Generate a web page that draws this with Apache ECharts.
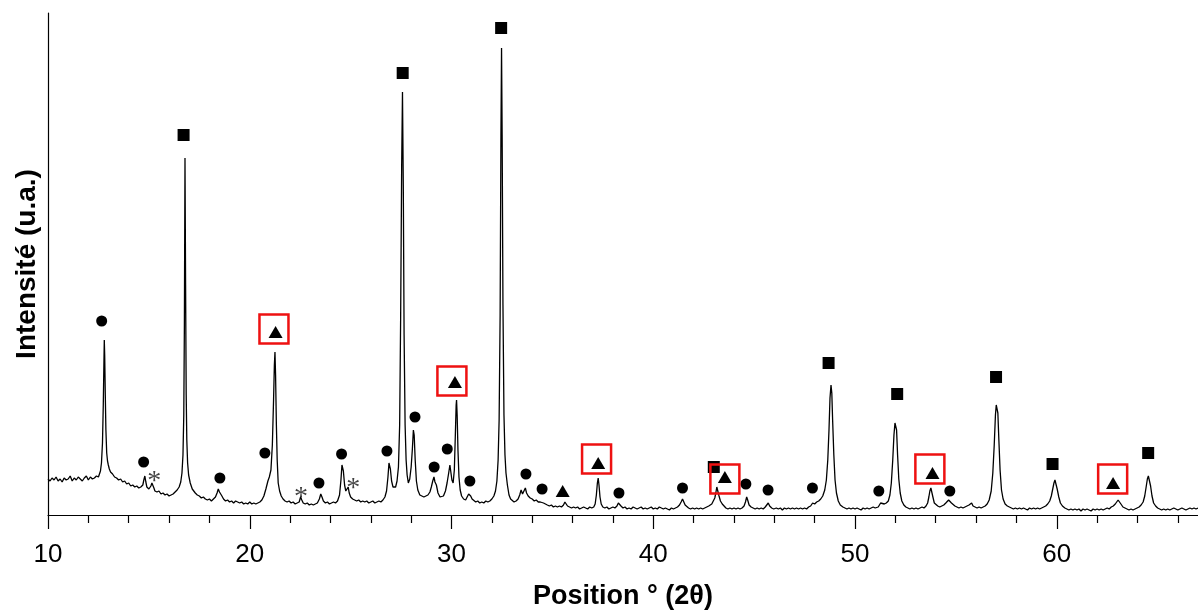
<!DOCTYPE html>
<html>
<head>
<meta charset="utf-8">
<script src="https://cdn.jsdelivr.net/npm/echarts@6/dist/echarts.min.js"></script>
<style>html,body{margin:0;padding:0;background:#fff;}#chart{width:1198px;height:610px;}</style>
</head>
<body>
<div id="chart"></div>
<script>
// XRD trace: [2theta, intensity (a.u.)]
const trace10_20 = [[10.0,36],[10.1,34],[10.2,37],[10.3,35],[10.4,38],[10.5,34],[10.6,36],[10.7,33],[10.8,37],[10.9,35],[11.0,36],[11.1,39],[11.2,34],[11.3,37],[11.4,35],[11.5,38],[11.6,36],[11.7,34],[11.8,37],[11.9,39],[12.0,35],[12.1,38],[12.2,36],[12.3,37],[12.4,39],[12.5,38],[12.55,40],[12.6,44],[12.65,52],[12.7,72],[12.74,110],[12.77,150],[12.79,175],[12.81,160],[12.84,120],[12.87,85],[12.91,62],[12.95,54],[12.99,50],[13.04,46],[13.1,43],[13.2,41],[13.3,38],[13.4,37],[13.5,35],[13.6,36],[13.7,33],[13.8,34],[13.9,31],[14.0,32],[14.1,29],[14.2,30],[14.3,28],[14.4,29],[14.5,27],[14.6,28],[14.65,28],[14.7,30],[14.75,35],[14.8,39],[14.85,33],[14.9,28],[14.95,26],[15.0,26],[15.05,27],[15.1,29],[15.15,32],[15.2,31],[15.25,27],[15.3,24],[15.4,23],[15.5,24],[15.6,21],[15.7,22],[15.8,20],[15.9,21],[16.0,19],[16.1,20],[16.2,21],[16.3,23],[16.4,25],[16.5,28],[16.58,33],[16.64,42],[16.69,60],[16.73,100],[16.76,190],[16.79,357],[16.82,230],[16.85,120],[16.88,75],[16.92,52],[16.97,40],[17.05,32],[17.15,26],[17.3,22],[17.4,20],[17.5,19],[17.6,17],[17.7,18],[17.8,16],[17.9,15],[18.0,16],[18.1,14],[18.2,16],[18.3,18],[18.38,22],[18.44,26],[18.5,23],[18.55,25],[18.62,19],[18.7,16],[18.8,14],[18.9,15],[19.0,13],[19.1,14],[19.2,12],[19.3,14],[19.4,13],[19.5,12],[19.6,13],[19.7,11],[19.8,12],[19.9,11],[20.0,13]];
const trace20_30 = [[20.1,11],[20.2,12],[20.3,11],[20.4,12],[20.5,13],[20.6,15],[20.7,19],[20.8,26],[20.9,34],[20.97,38],[21.05,45],[21.12,70],[21.18,115],[21.22,150],[21.25,163],[21.28,140],[21.32,90],[21.36,55],[21.41,32],[21.48,24],[21.56,19],[21.65,16],[21.75,14],[21.85,13],[21.95,14],[22.05,12],[22.15,13],[22.25,11],[22.35,12],[22.45,13],[22.52,18],[22.58,15],[22.65,12],[22.75,11],[22.85,12],[22.95,10],[23.05,11],[23.15,10],[23.25,11],[23.35,12],[23.45,16],[23.52,21],[23.58,18],[23.65,14],[23.75,12],[23.85,13],[23.95,11],[24.05,12],[24.15,13],[24.25,12],[24.35,14],[24.45,20],[24.52,35],[24.57,50],[24.6,52],[24.64,44],[24.7,30],[24.76,24],[24.82,25],[24.88,28],[24.93,22],[25.0,18],[25.1,16],[25.2,15],[25.3,14],[25.4,15],[25.5,13],[25.6,14],[25.7,13],[25.8,14],[25.9,12],[26.0,13],[26.1,14],[26.2,12],[26.3,13],[26.4,14],[26.5,13],[26.6,15],[26.7,18],[26.78,24],[26.85,38],[26.9,52],[26.93,54],[26.97,46],[27.03,34],[27.1,28],[27.17,26],[27.23,28],[27.3,34],[27.37,48],[27.43,90],[27.48,200],[27.53,350],[27.57,423],[27.61,330],[27.65,180],[27.7,90],[27.75,55],[27.8,40],[27.86,32],[27.93,36],[28.0,48],[28.06,66],[28.11,85],[28.15,80],[28.2,55],[28.26,34],[28.33,25],[28.43,20],[28.53,19],[28.63,18],[28.73,19],[28.83,20],[28.93,23],[29.0,28],[29.07,34],[29.13,38],[29.18,33],[29.25,30],[29.33,22],[29.43,18],[29.51,17],[29.6,19],[29.7,24],[29.78,32],[29.86,42],[29.92,50],[29.96,48]];
const trace30_40 = [[30.02,35],[30.08,32],[30.14,45],[30.19,80],[30.23,110],[30.25,115],[30.28,100],[30.32,65],[30.37,38],[30.43,25],[30.5,19],[30.6,16],[30.7,15],[30.78,17],[30.85,21],[30.9,22],[30.95,19],[31.02,16],[31.1,14],[31.2,13],[31.3,14],[31.4,12],[31.5,13],[31.6,12],[31.7,14],[31.8,13],[31.9,14],[32.0,16],[32.1,19],[32.18,24],[32.25,34],[32.31,55],[32.36,95],[32.41,200],[32.45,380],[32.48,467],[32.51,380],[32.55,210],[32.6,100],[32.65,60],[32.7,42],[32.77,30],[32.85,20],[32.93,16],[33.0,14],[33.1,13],[33.2,14],[33.3,16],[33.38,20],[33.45,25],[33.52,21],[33.58,23],[33.66,27],[33.72,22],[33.8,19],[33.9,17],[34.0,16],[34.1,14],[34.2,15],[34.3,13],[34.4,13],[34.48,15],[34.56,12],[34.65,11],[34.75,10],[34.85,9],[34.95,10],[35.05,8],[35.15,9],[35.25,8],[35.35,9],[35.45,8],[35.55,10],[35.62,13],[35.68,12],[35.75,9],[35.85,8],[35.95,7],[36.05,8],[36.15,7],[36.25,8],[36.35,6],[36.45,7],[36.55,8],[36.65,7],[36.75,6],[36.85,8],[36.95,7],[37.05,8],[37.12,11],[37.18,20],[37.23,32],[37.27,37],[37.31,30],[37.36,18],[37.42,11],[37.5,8],[37.6,7],[37.7,8],[37.8,6],[37.9,7],[38.0,8],[38.1,7],[38.2,9],[38.27,12],[38.33,11],[38.4,9],[38.5,7],[38.6,8],[38.7,6],[38.8,7],[38.9,6],[39.0,8],[39.1,7],[39.2,6],[39.3,7],[39.4,8],[39.5,6],[39.6,7],[39.7,6],[39.8,7],[39.9,8],[40.0,6]];
const trace40_50 = [[40.1,7],[40.2,6],[40.3,8],[40.4,7],[40.5,6],[40.6,7],[40.7,6],[40.8,5],[40.9,7],[41.0,6],[41.1,7],[41.2,8],[41.3,10],[41.38,13],[41.45,16],[41.5,14],[41.58,10],[41.66,8],[41.75,7],[41.85,6],[41.95,7],[42.05,6],[42.15,7],[42.25,6],[42.35,7],[42.45,6],[42.55,7],[42.65,8],[42.75,9],[42.82,10],[42.9,11],[42.98,13],[43.05,17],[43.1,22],[43.15,28],[43.2,26],[43.26,19],[43.33,14],[43.42,11],[43.5,9],[43.6,7],[43.7,6],[43.8,7],[43.9,6],[44.0,7],[44.1,6],[44.2,7],[44.3,6],[44.4,7],[44.5,9],[44.57,13],[44.63,18],[44.68,15],[44.75,10],[44.85,8],[44.95,7],[45.05,6],[45.15,7],[45.25,6],[45.35,7],[45.45,6],[45.55,8],[45.63,10],[45.7,12],[45.77,9],[45.87,7],[45.97,6],[46.1,7],[46.2,6],[46.3,7],[46.4,5],[46.5,7],[46.6,6],[46.7,7],[46.8,6],[46.9,7],[47.0,6],[47.1,7],[47.2,6],[47.3,7],[47.4,6],[47.5,7],[47.6,6],[47.7,8],[47.8,9],[47.9,12],[48.0,11],[48.1,13],[48.2,14],[48.3,16],[48.4,19],[48.5,25],[48.58,35],[48.65,55],[48.71,85],[48.76,117],[48.81,130],[48.85,122],[48.89,95],[48.95,60],[49.01,35],[49.08,22],[49.17,14],[49.27,10],[49.4,8],[49.5,7],[49.6,6],[49.7,7],[49.8,6],[49.9,7],[50.0,6]];
const trace50_60 = [[50.1,7],[50.2,6],[50.3,5],[50.4,7],[50.5,6],[50.6,7],[50.7,6],[50.8,7],[50.9,8],[51.0,7],[51.08,9],[51.15,8],[51.2,10],[51.27,12],[51.35,10],[51.45,11],[51.55,12],[51.65,14],[51.73,20],[51.8,32],[51.87,55],[51.93,80],[51.98,92],[52.02,94],[52.06,85],[52.11,60],[52.17,36],[52.24,22],[52.32,14],[52.42,10],[52.52,8],[52.62,7],[52.72,6],[52.82,7],[52.92,6],[53.02,7],[53.12,6],[53.22,7],[53.32,8],[53.42,7],[53.52,9],[53.6,12],[53.66,18],[53.71,24],[53.76,27],[53.8,25],[53.86,18],[53.93,12],[54.0,10],[54.1,9],[54.2,8],[54.3,9],[54.4,10],[54.5,12],[54.57,14],[54.64,15],[54.7,13],[54.78,12],[54.86,10],[54.95,9],[55.05,8],[55.15,7],[55.25,8],[55.35,7],[55.45,8],[55.55,9],[55.65,10],[55.72,12],[55.78,12],[55.85,9],[55.95,8],[56.05,7],[56.15,8],[56.25,7],[56.35,8],[56.45,9],[56.55,11],[56.65,15],[56.75,24],[56.83,42],[56.9,70],[56.96,100],[57.0,110],[57.04,112],[57.08,102],[57.13,75],[57.19,45],[57.26,25],[57.34,16],[57.44,11],[57.55,9],[57.65,8],[57.75,7],[57.85,6],[57.95,7],[58.05,6],[58.15,7],[58.25,6],[58.35,7],[58.45,6],[58.55,5],[58.65,7],[58.75,6],[58.85,7],[58.95,6],[59.05,7],[59.15,6],[59.25,7],[59.35,8],[59.45,9],[59.55,11],[59.65,14],[59.73,19],[59.8,26],[59.86,32],[59.91,35],[59.96,33]];
const trace60_67 = [[60.02,26],[60.1,18],[60.18,12],[60.28,9],[60.4,7],[60.5,6],[60.6,5],[60.7,6],[60.8,5],[60.9,6],[61.0,5],[61.1,6],[61.2,4],[61.3,6],[61.4,5],[61.5,6],[61.6,5],[61.7,4],[61.8,6],[61.9,5],[62.0,6],[62.1,5],[62.2,6],[62.3,5],[62.4,6],[62.5,7],[62.6,6],[62.7,8],[62.8,9],[62.9,11],[62.97,13],[63.04,15],[63.1,14],[63.18,11],[63.28,8],[63.38,7],[63.48,6],[63.58,5],[63.68,6],[63.78,5],[63.88,6],[63.98,7],[64.08,8],[64.18,10],[64.28,13],[64.36,19],[64.43,28],[64.49,36],[64.54,39],[64.59,37],[64.65,29],[64.72,19],[64.8,12],[64.9,9],[65.0,7],[65.1,6],[65.2,5],[65.3,6],[65.4,5],[65.5,6],[65.6,5],[65.7,6],[65.8,7],[65.9,6],[66.0,5],[66.1,6],[66.2,7],[66.3,6],[66.4,5],[66.5,6],[66.6,7],[66.7,6],[66.8,7],[66.9,6],[67.0,7]];

// Phase markers [2theta, intensity]
const squarePhase = [[16.72,380],[27.58,442],[32.46,487],[43.00,48],[48.69,152],[52.09,121],[56.99,138],[59.79,51],[64.53,62]];
const circlePhase = [[12.66,194],[14.74,53],[18.52,37],[20.75,62],[23.43,32],[24.55,61],[26.80,64],[28.19,98],[29.14,48],[29.79,66],[30.91,34],[33.69,41],[34.49,26],[38.30,22],[41.45,27],[44.59,31],[45.69,25],[47.89,27],[51.18,24],[54.70,24]];
const trianglePhase = [[21.28,183],[30.17,133],[35.51,24],[37.27,52],[43.55,38],[53.84,42],[62.79,32]];
const boxedPeaks = [[21.20,186],[30.02,134],[37.19,56],[43.55,36],[53.71,46],[62.77,36]];
const asteriskPeaks = [[15.27,40],[22.54,24],[25.13,33]];

const xTicks = [10, 20, 30, 40, 50, 60];

const trace = [].concat(trace10_20, trace20_30, trace30_40, trace40_50, trace50_60, trace60_67);

const chart = echarts.init(document.getElementById('chart'), null, {renderer: 'canvas'});
chart.setOption({
  animation: false,
  backgroundColor: '#fff',
  grid: {left: 48, right: 0, top: 13, bottom: 95, containLabel: false, outerBoundsMode: 'none'},
  xAxis: {
    type: 'value', min: 10, max: 67, interval: 10,
    axisLine: {show: true, onZero: false, lineStyle: {color: '#000', width: 1.2}},
    axisTick: {show: true, length: 14, lineStyle: {color: '#000', width: 1.2},
      customValues: xTicks},
    minorTick: {show: true, splitNumber: 5, length: 8, lineStyle: {color: '#000', width: 1.2}},
    axisLabel: {color: '#000', fontSize: 26, fontFamily: 'Liberation Sans, Arial, sans-serif', margin: 27,
      customValues: xTicks, formatter: v => xTicks.includes(v) ? String(v) : ''},
    splitLine: {show: false},
    name: 'Position ° (2θ)', nameLocation: 'middle', nameGap: 68,
    nameTextStyle: {color: '#000', fontSize: 27, fontWeight: 'bold', fontFamily: 'Liberation Sans, Arial, sans-serif'}
  },
  yAxis: {
    type: 'value', min: 0, max: 502,
    axisLine: {show: true, lineStyle: {color: '#000', width: 1.2}},
    axisTick: {show: false}, axisLabel: {show: false}, splitLine: {show: false},
    name: 'Intensité (u.a.)', nameLocation: 'middle', nameGap: 7, nameRotate: 90,
    nameTextStyle: {color: '#000', fontSize: 28, fontWeight: 'bold', fontFamily: 'Liberation Sans, Arial, sans-serif'}
  },
  series: [
    {type: 'line', data: trace, symbol: 'none', lineStyle: {color: '#000', width: 1.3}, z: 2},
    {type: 'scatter', data: squarePhase, symbol: 'rect', symbolSize: 12, itemStyle: {color: '#000', opacity: 1}, z: 3},
    {type: 'scatter', data: circlePhase, symbol: 'circle', symbolSize: 11, itemStyle: {color: '#000', opacity: 1}, z: 3},
    {type: 'scatter', data: trianglePhase, symbol: 'triangle', symbolSize: [14, 12], itemStyle: {color: '#000', opacity: 1}, z: 3},
    {type: 'scatter', data: boxedPeaks, symbol: 'rect', symbolSize: 29,
      itemStyle: {color: 'rgba(0,0,0,0)', borderColor: '#ee1111', borderWidth: 2.5, opacity: 1}, z: 4},
    {type: 'scatter', data: asteriskPeaks, symbol: 'circle', symbolSize: 1, itemStyle: {color: 'rgba(0,0,0,0)'},
      label: {show: true, position: 'inside', formatter: '*', fontSize: 28, color: '#111',
        fontFamily: 'Liberation Serif, serif', offset: [0, 7]}, z: 3}
  ]
});
</script>
</body>
</html>
